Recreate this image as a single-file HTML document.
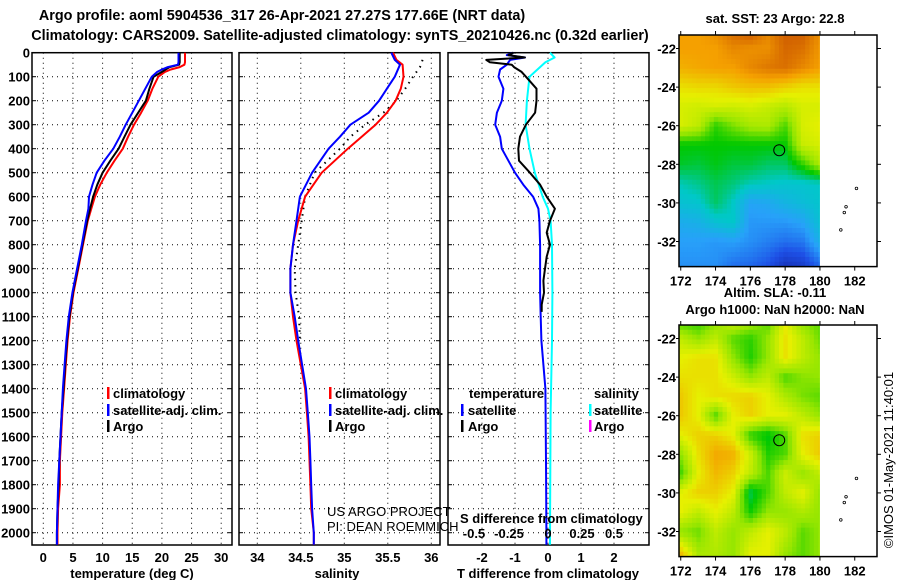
<!DOCTYPE html>
<html><head><meta charset="utf-8"><style>
body{margin:0;background:#fff;}
svg{display:block;font-family:"Liberation Sans",sans-serif;}
.b{font-weight:bold;font-size:13px;}
.n{font-weight:normal;font-size:13px;}
.t{font-weight:bold;font-size:14.4px;}
</style></head><body>
<svg id="c" width="900" height="580" viewBox="0 0 900 580">
<text class="t" x="282" y="20" text-anchor="middle">Argo profile: aoml 5904536_317 26-Apr-2021 27.27S 177.66E (NRT data)</text>
<text class="t" x="340" y="40" text-anchor="middle">Climatology: CARS2009. Satellite-adjusted climatology: synTS_20210426.nc (0.32d earlier)</text>
<g id="g"></g>
</svg>
<script>
const depthsT = [0,40,50,60,70,80,100,150,200,250,300,350,400,450,500,550,600,650,700,800,900,1000,1100,1200,1300,1400,1500,1600,1700,1800,1900,2000,2050];
const tempArgo = [23.0,23.0,22.9,21.3,20.6,20.0,18.6,17.9,17.3,16.0,14.7,13.7,12.7,11.3,10.0,9.1,8.4,7.9,7.4,6.6,5.8,5.0,4.4,4.0,3.7,3.4,3.1,2.9,2.7,2.6,2.4,2.3,2.3];
const tempClim = [23.9,23.9,23.8,23.0,21.5,20.5,19.4,18.4,17.6,16.5,15.3,14.3,13.4,12.0,10.7,9.6,8.7,8.1,7.5,6.7,5.9,5.1,4.5,4.1,3.8,3.5,3.2,3.0,2.8,2.8,2.5,2.4,2.4];
const tempSat = [22.8,22.8,22.7,21.0,20.0,19.2,18.3,17.2,16.1,15.0,13.9,12.9,11.8,10.3,9.0,8.3,7.7,7.6,7.2,6.5,5.7,4.9,4.3,3.9,3.6,3.3,3.1,2.9,2.7,2.5,2.4,2.3,2.3];
const depthsS = [0,30,50,100,150,200,250,300,350,400,500,600,700,800,900,1000,1100,1200,1400,1500,1600,1700,1800,1900,2000,2050];
const salClim = [35.56,35.60,35.67,35.68,35.65,35.59,35.49,35.36,35.20,35.04,34.74,34.55,34.47,34.41,34.38,34.38,34.41,34.45,34.55,34.57,34.59,34.60,34.61,34.62,34.65,34.65];
const salSat = [35.54,35.58,35.64,35.58,35.49,35.40,35.28,35.07,34.95,34.82,34.63,34.49,34.45,34.41,34.38,34.38,34.43,34.47,34.56,34.58,34.60,34.61,34.62,34.63,34.65,34.65];
const depthsSA = [30,60,100,150,200,250,300,350,400,500,600,700,800,900,1000,1100,1200];
const salArgo = [35.90,35.87,35.79,35.70,35.60,35.45,35.24,35.07,34.95,34.66,34.55,34.51,34.47,34.43,34.44,34.48,34.49];
const depthsDA = [0,10,20,30,40,50,60,80,100,150,200,250,300,350,400,450,500,550,600,650,700,750,800,850,900,950,1000,1050,1080];
const tDiffArgo = [-1.05,-1.2,-0.7,-1.87,-1.76,-1.1,-1.03,-0.8,-0.67,-0.35,-0.35,-0.39,-0.67,-0.85,-0.9,-0.88,-0.55,-0.24,-0.04,0.21,0.06,-0.04,0.06,-0.04,-0.09,-0.14,-0.12,-0.19,-0.19];
const depthsDS = [0,10,20,30,50,70,100,150,200,250,300,350,400,450,500,550,600,650,700,800,900,1000,1100,1200,1400,1700,2000,2050];
const tDiffSat = [-1.05,-1.25,-0.7,-1.15,-1.25,-1.45,-1.5,-1.35,-1.4,-1.55,-1.6,-1.45,-1.4,-1.2,-1.0,-0.75,-0.45,-0.29,-0.26,-0.24,-0.24,-0.24,-0.22,-0.2,-0.08,-0.06,-0.05,-0.05];
const depthsDC = [0,20,40,100,200,300,400,500,600,650,700,800,1000,1200,1500,2000,2050];
const sDiffSat = [0.015,0.05,-0.02,-0.14,-0.16,-0.17,-0.14,-0.1,-0.04,0.0,0.02,0.03,0.033,0.03,0.02,0.015,0.015];
const tempTicks = [0,5,10,15,20,25,30];
const salTicks = [34,34.5,35,35.5,36];
const diffTicks = [-2,-1,0,1,2];
const sDiffTickLabels = ["-0.5","-0.25","0","0.25","0.5"];
const depthTicks = [0,100,200,300,400,500,600,700,800,900,1000,1100,1200,1300,1400,1500,1600,1700,1800,1900,2000];
const latTicks = [-22,-24,-26,-28,-30,-32];
const lonTicks = [172,174,176,178,180,182];
const sstGrid = [
[7,7,7.2,7.6,7.8,7.3,7.8,7.8,7.2],[7,7,7,7.3,7.2,7.2,7.7,7.6,7.1],[6.8,6.9,7,7,7.3,7.5,7.6,7.3,7],
[6.2,6.3,6.3,6.5,6.6,6.6,6.4,6.2,6.2],[5.8,5.7,5.8,5.7,5.8,5.6,5.4,5.8,5.8],[5.8,5.5,4.3,4.8,5.2,5.3,4.5,5.8,6],
[4,4,4,4,4,4,4,5.6,5.8],[3.8,3.7,3.9,3.7,3.7,3.5,3.5,4.3,5.3],[3.1,3.3,3.6,3.4,3.1,3.0,2.9,2.9,3.0],
[2.8,2.9,3.5,3.0,2.1,2.2,2.5,2.7,2.9],[2.3,2.4,2.8,3.0,1.9,1.9,1.9,2.1,2.8],[2.0,2.0,1.9,2.0,1.8,1.6,1.4,1.5,2.4],
[1.8,1.8,1.8,1.4,1.3,1.0,0.3,0.5,1.3]];
const slaGrid = [
[4.6,4.4,5,5.5,5.1,4.6,6,5,4.6],[5.5,5,5.5,4.6,4.3,5,6.2,5.5,4.7],[6,6.2,6.2,5,4.2,5,6.2,5.5,5],
[6.2,6.2,6.2,5.7,5,5.5,4.5,4.9,5],[6.5,6,6.2,6.3,6.4,6,5.3,4.8,4.6],[6.5,6,4.5,6,6.4,6,6,5.5,5],
[6,6.4,6.4,6,4.3,3.9,4.5,6.2,6.4],[5,6.2,6.9,6.8,5.7,4.2,4.5,6,6.5],[4.4,6,6.7,6.4,5.5,4.5,5.7,5,5.5],
[6,6.4,6.4,6,3.6,4.5,5.5,6,5],[6,5.5,6,5.5,4.1,5,5,5.3,5],[5,4.7,5.5,5,5.5,6,5.5,4.6,5],
[6.8,5.3,5.3,5,6,6,5,4.6,5]];
const gridLats = [-21.3,-22,-23,-24,-25,-26,-27,-28,-29,-30,-31,-32,-33.3];
const argoLon = 177.66, argoLat = -27.27;

const NS='http://www.w3.org/2000/svg';
const G=document.getElementById('g');
function mk(tag,attrs,parent){const e=document.createElementNS(NS,tag);for(const k in attrs)e.setAttribute(k,attrs[k]);(parent||G).appendChild(e);return e;}
const yD=d=>52.7+d*0.24;
const xT=t=>43.3+t*5.93;
const xS=s=>257.3+(s-34)*87;
const xD=v=>548+v*33;
const xSD=v=>548+v*132;
const TOP=52.7,BOT=545;

function panel(name,x0,x1,ticks,xf,labels){
  const g=mk('g',{});
  
  
  depthTicks.forEach(d=>{ if(d>0){const l=mk('line',{x1:x0,x2:x1,y1:yD(d),y2:yD(d),stroke:'#000','stroke-width':1,'stroke-dasharray':'1,4'},g);
    }
    mk('line',{x1:x0,x2:x0+4,y1:yD(d),y2:yD(d),stroke:'#000'},g);mk('line',{x1:x1-4,x2:x1,y1:yD(d),y2:yD(d),stroke:'#000'},g);});
  ticks.forEach((t,i)=>{const x=xf(t);
    const l=mk('line',{x1:x,x2:x,y1:TOP,y2:BOT,stroke:'#000','stroke-width':1,'stroke-dasharray':'1,4'},g);
    
    const tx=mk('text',{x:x,y:562,'text-anchor':'middle',class:'b'},g);tx.textContent=labels[i];
    });
  const r=mk('rect',{x:x0,y:TOP,width:x1-x0,height:BOT-TOP,fill:'none',stroke:'#000','stroke-width':1.5},g);
  
  return g;
}
panel('temperature',32,232,tempTicks,xT,tempTicks.map(String));
panel('salinity',239,440,salTicks,xS,salTicks.map(String));
panel('difference',448,649,diffTicks,xD,diffTicks.map(String));
depthTicks.forEach(d=>{const t=mk('text',{x:30,y:yD(d)+5,'text-anchor':'end',class:'b'});t.textContent=d;
  });

function line(xs,ys,xf,color,name,w,dash){
  const pts=xs.map((v,i)=>xf(v).toFixed(1)+','+yD(ys[i]).toFixed(1)).join(' ');
  const a={points:pts,fill:'none',stroke:color,'stroke-width':w||2,'stroke-linejoin':'round'};
  if(dash)a['stroke-dasharray']=dash;
  const p=mk('polyline',a);
  
}
line(tempClim,depthsT,xT,'#ff0000','temperature-climatology-line');
line(tempArgo,depthsT,xT,'#000','temperature-argo-line');
line(tempSat,depthsT,xT,'#0000ff','temperature-satellite-line');
line(salArgo,depthsSA,xS,'#000','salinity-argo-dots',2,'1.5,5');
line(salClim,depthsS,xS,'#ff0000','salinity-climatology-line');
line(salSat,depthsS,xS,'#0000ff','salinity-satellite-line');
line(tDiffSat,depthsDS,xD,'#0000ff','t-diff-satellite-line');
line(sDiffSat,depthsDC,xSD,'#00ffff','s-diff-satellite-line');
line(tDiffArgo,depthsDA,xD,'#000','t-diff-argo-line');

function txt(x,y,s,cls,name,extra){const t=mk('text',Object.assign({x:x,y:y,class:cls},extra||{}));t.textContent=s;
  return t;}
function bar(x,y,c){mk('rect',{x:x,y:y-11,width:2.5,height:12,fill:c});}
txt(132,578,'temperature (deg C)','b','x-axis-title-temperature',{'text-anchor':'middle'});
txt(337,578,'salinity','b','x-axis-title-salinity',{'text-anchor':'middle'});
txt(548,578,'T difference from climatology','b','x-axis-title-t-difference',{'text-anchor':'middle'});
[['climatology','#ff0000',398],['satellite-adj. clim.','#0000ff',415],['Argo','#000',431]].forEach(e=>{
  bar(107,e[2],e[1]);txt(113,e[2],e[0],'b','legend-entry-temperature');
  bar(329,e[2],e[1]);txt(335,e[2],e[0],'b','legend-entry-salinity');});
txt(469,398,'temperature','b','legend-header-temperature');
txt(594,398,'salinity','b','legend-header-salinity');
bar(461,415,'#0000ff');txt(468,415,'satellite','b','legend-entry-t-satellite');
bar(461,431,'#000');txt(468,431,'Argo','b','legend-entry-t-argo');
bar(589,415,'#00ffff');txt(594,415,'satellite','b','legend-entry-s-satellite');
bar(589,431,'#ff00ff');txt(594,431,'Argo','b','legend-entry-s-argo');
txt(327,516,'US ARGO PROJECT','n','credit-project');
txt(327,531,'PI: DEAN ROEMMICH','n','credit-pi');
txt(460,523,'S difference from climatology','b','s-difference-axis-title');
const sPos=[474,509,548,582,614];
sDiffTickLabels.forEach((s,i)=>txt(sPos[i],538,s,'b','s-diff-tick-label',{'text-anchor':'middle'}));

const MX0=679,MX1=877,MLON0=171.9,PXLON=17.4,MLAT0=-21.3,PXLAT=19.3;
const stops=[[20,40,170],[30,80,230],[40,160,250],[0,200,200],[0,200,0],[150,230,0],[230,240,0],[245,160,0],[200,80,0]];
function cmap(v){v=Math.max(0,Math.min(8,v));const i=Math.min(7,Math.floor(v)),f=v-i;
  const a=stops[i],b=stops[i+1];return 'rgb('+a.map((c,k)=>Math.round(c+(b[k]-c)*f)).join(',')+')';}
function sample(grid,lon,lat){
  let c=(lon-172)/1; c=Math.max(0,Math.min(7.999,c)); const ci=Math.floor(c),cf=c-ci;
  let ri=0; while(ri<gridLats.length-2 && lat<gridLats[ri+1]) ri++;
  let rf=(gridLats[ri]-lat)/(gridLats[ri]-gridLats[ri+1]); rf=Math.max(0,Math.min(1,rf));
  const g0=grid[ri],g1=grid[ri+1];
  const top=g0[ci]*(1-cf)+g0[ci+1]*cf, bot=g1[ci]*(1-cf)+g1[ci+1]*cf;
  return top*(1-rf)+bot*rf;
}
function drawMap(y0,grid,name){
  const g=mk('g',{});
  
  const ty=lat=>y0+(MLAT0-lat)*PXLAT, tx=lon=>MX0+(lon-MLON0)*PXLON;
  const step=0.25;
  for(let lat=MLAT0;lat>-33.3;lat-=step){
    for(let lon=MLON0;lon<180;lon+=step){
      const v=sample(grid,lon+step/2,lat-step/2);
      const w=Math.min(step,180-lon);
      mk('rect',{x:tx(lon).toFixed(2),y:ty(lat).toFixed(2),width:(w*PXLON+0.6).toFixed(2),height:(step*PXLAT+0.6).toFixed(2),fill:cmap(v)},g);
    }
  }
  const yb=ty(-33.3);
  mk('rect',{x:tx(180),y:y0,width:MX1-tx(180),height:yb-y0,fill:'#fff'},g);
  mk('rect',{x:MX0,y:y0,width:MX1-MX0,height:yb-y0,fill:'none',stroke:'#000','stroke-width':1.5},g);
  lonTicks.forEach(l=>{const x=tx(l);mk('line',{x1:x,x2:x,y1:y0,y2:y0-4,stroke:'#000'},g);mk('line',{x1:x,x2:x,y1:yb,y2:yb+4,stroke:'#000'},g);
    const t=mk('text',{x:x,y:yb+19,'text-anchor':'middle',class:'b'},g);t.textContent=l;
    });
  latTicks.forEach(l=>{const y=ty(l);mk('line',{x1:MX0,x2:MX0-3,y1:y,y2:y,stroke:'#000'},g);mk('line',{x1:MX1,x2:MX1+4,y1:y,y2:y,stroke:'#000'},g);
    const t=mk('text',{x:676,y:y+5,'text-anchor':'end',class:'b'},g);t.textContent=l;
    });
  const c=mk('circle',{cx:tx(argoLon),cy:ty(argoLat),r:5.5,fill:'none',stroke:'#000','stroke-width':1},g);
  
  [[182.1,-29.25],[181.5,-30.2],[181.4,-30.5],[181.2,-31.4]].forEach(p=>mk('circle',{cx:tx(p[0]),cy:ty(p[1]),r:1.3,fill:'none',stroke:'#000','stroke-width':0.8},g));
}
drawMap(35,sstGrid,'sst-map');
drawMap(325,slaGrid,'sla-map');
txt(775,23,'sat. SST: 23 Argo: 22.8','b','sst-map-title',{'text-anchor':'middle'});
txt(775,297,'Altim. SLA: -0.11','b','sla-map-title',{'text-anchor':'middle'});
txt(775,314,'Argo h1000: NaN h2000: NaN','b','sla-map-subtitle',{'text-anchor':'middle'});
txt(0,0,'©IMOS 01-May-2021 11:40:01','n','imos-timestamp',{'text-anchor':'middle',transform:'translate(893,460) rotate(-90)'});
</script>
</body></html>
